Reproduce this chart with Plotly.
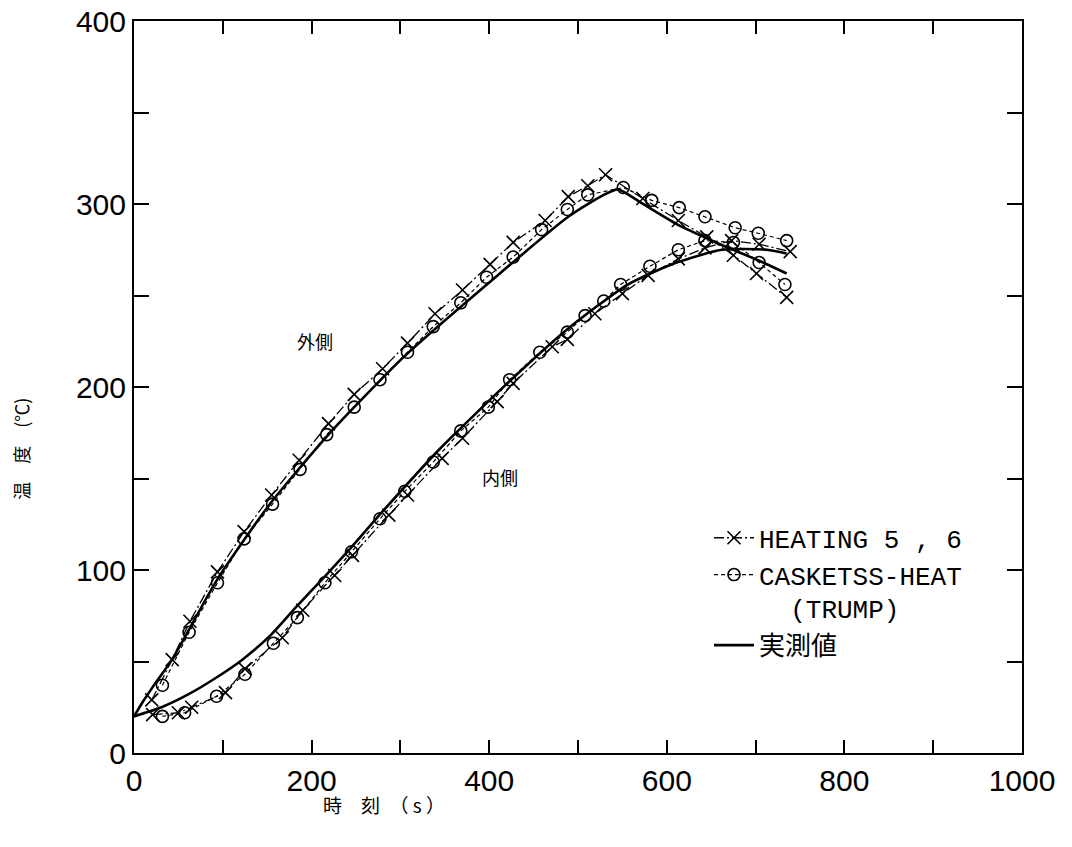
import plotly.graph_objects as go

# ---- data (time s, temperature C) ----
outer_heat_t = [20, 43, 63, 94, 124, 155, 186, 219, 248, 280, 308, 339, 370, 401, 427, 463, 489, 511, 531, 573, 613, 645, 675, 701, 735]
outer_heat_y = [29, 51, 72, 99, 121, 141, 160, 180, 196, 210, 224, 240, 253, 267, 279, 291, 304, 310, 316, 303, 291, 282, 272, 262, 249]

outer_cask_t = [32, 62, 94, 124, 156, 187, 217, 248, 277, 308, 337, 368, 397, 427, 459, 488, 511, 551, 583, 614, 643, 677, 703, 735]
outer_cask_y = [37, 66, 93, 117, 136, 155, 174, 189, 204, 219, 233, 246, 260, 271, 286, 297, 305, 309, 302, 298, 293, 287, 284, 280]

inner_heat_t = [21, 50, 65, 103, 125, 167, 190, 226, 246, 287, 308, 347, 370, 409, 427, 471, 488, 519, 550, 579, 613, 643, 673, 704, 739]
inner_heat_y = [21, 22, 25, 33, 46, 63, 78, 97, 108, 130, 141, 161, 172, 192, 202, 222, 226, 240, 251, 261, 270, 276, 280, 278, 274]

inner_cask_t = [32, 57, 93, 125, 157, 184, 215, 245, 277, 305, 337, 368, 399, 423, 457, 488, 508, 529, 548, 581, 613, 643, 675, 704, 733]
inner_cask_y = [20, 22, 31, 43, 60, 74, 93, 110, 128, 143, 159, 176, 189, 204, 219, 230, 239, 247, 256, 266, 275, 280, 279, 268, 256]

outer_meas_t = [0, 10, 21, 44, 94, 153, 219, 305, 407, 489, 529, 545, 570, 615, 660, 704, 735]
outer_meas_y = [20, 28, 36, 52, 95, 136, 174, 217, 260, 293, 305, 308, 301, 288, 278, 269, 262]

inner_meas_t = [0, 31, 61, 92, 122, 153, 183, 214, 244, 280, 344, 427, 489, 556, 611, 662, 713, 735]
inner_meas_y = [20, 25, 32, 41, 51, 64, 80, 96, 112, 132, 166, 205, 232, 256, 268, 275, 275, 273]

x_ticks = [0, 200, 400, 600, 800, 1000]
y_ticks = [0, 100, 200, 300, 400]

names = ["HEATING 5 , 6", "CASKETSS-HEAT<br>\u00a0\u00a0(TRUMP)", "実測値"]

fig = go.Figure()

heat_line = dict(color="black", width=1.3, dash="10px,3px,2px,3px")
cask_line = dict(color="black", width=1.2, dash="4px,3px")
meas_line = dict(color="black", width=2.6, shape="spline", smoothing=0.6)
heat_marker = dict(symbol="x-thin-open", size=13, color="black", line=dict(color="black", width=1.6))
cask_marker = dict(symbol="circle-open", size=12, color="black", line=dict(color="black", width=1.6))

fig.add_trace(go.Scatter(x=outer_heat_t, y=outer_heat_y, mode="lines+markers", line=heat_line,
                         marker=heat_marker, name=names[0], legendgroup="h", showlegend=True))
fig.add_trace(go.Scatter(x=inner_heat_t, y=inner_heat_y, mode="lines+markers", line=heat_line,
                         marker=heat_marker, name=names[0], legendgroup="h", showlegend=False))
fig.add_trace(go.Scatter(x=outer_cask_t, y=outer_cask_y, mode="lines+markers", line=cask_line,
                         marker=cask_marker, name=names[1], legendgroup="c", showlegend=True))
fig.add_trace(go.Scatter(x=inner_cask_t, y=inner_cask_y, mode="lines+markers", line=cask_line,
                         marker=cask_marker, name=names[1], legendgroup="c", showlegend=False))
fig.add_trace(go.Scatter(x=outer_meas_t, y=outer_meas_y, mode="lines", line=meas_line,
                         name=names[2], legendgroup="m", showlegend=True))
fig.add_trace(go.Scatter(x=inner_meas_t, y=inner_meas_y, mode="lines", line=meas_line,
                         name=names[2], legendgroup="m", showlegend=False))

tick_font = dict(family="Liberation Sans, DejaVu Sans", size=30, color="black")
cjk = "Noto Sans CJK JP"

fig.update_xaxes(range=[0, 1000], tickvals=list(range(0, 1001, 100)),
                 ticktext=[str(v) if v in x_ticks else "" for v in range(0, 1001, 100)],
                 ticks="inside", ticklen=13, tickwidth=2, tickcolor="black",
                 showline=True, linecolor="black", linewidth=2, mirror="ticks",
                 showgrid=False, zeroline=False, tickfont=tick_font,
                 ticklabeloverflow="allow", automargin=False)
fig.update_yaxes(range=[0, 400], tickvals=list(range(0, 401, 50)),
                 ticktext=[str(v) if v in y_ticks else "" for v in range(0, 401, 50)],
                 ticks="inside", ticklen=15, tickwidth=2, tickcolor="black",
                 showline=True, linecolor="black", linewidth=2, mirror="ticks",
                 showgrid=False, zeroline=False, tickfont=tick_font,
                 ticklabeloverflow="allow", automargin=False)

fig.add_annotation(x=204, y=225, xref="x", yref="y", text="外側", showarrow=False,
                   font=dict(family=cjk, size=18, color="black"))
fig.add_annotation(x=412, y=151, xref="x", yref="y", text="内側", showarrow=False,
                   font=dict(family=cjk, size=18, color="black"))
fig.add_annotation(x=-0.127, y=0.416, xref="paper", yref="paper", text="温\u2003度\u2003(℃)",
                   textangle=-90, showarrow=False, xanchor="center", yanchor="middle",
                   font=dict(family=cjk, size=18, color="black"))
fig.add_annotation(x=0.281, y=-0.071, xref="paper", yref="paper", text="時\u3000刻\u2002（ s ）",
                   showarrow=False, xanchor="center", yanchor="middle",
                   font=dict(family=cjk, size=19, color="black"))

fig.update_layout(
    width=1072, height=847,
    margin=dict(l=134, r=50, t=21, b=94, autoexpand=False),
    paper_bgcolor="white", plot_bgcolor="white",
    legend=dict(x=0.6475, y=0.326, xanchor="left", yanchor="top", bgcolor="rgba(0,0,0,0)",
                font=dict(family="Liberation Mono, " + cjk, size=26, color="black"),
                itemwidth=40, valign="top", tracegroupgap=0),
)

fig.write_html("out.html", config={"displayModeBar": False},
               post_script="document.body.style.margin='0';document.body.style.overflow='hidden';")
